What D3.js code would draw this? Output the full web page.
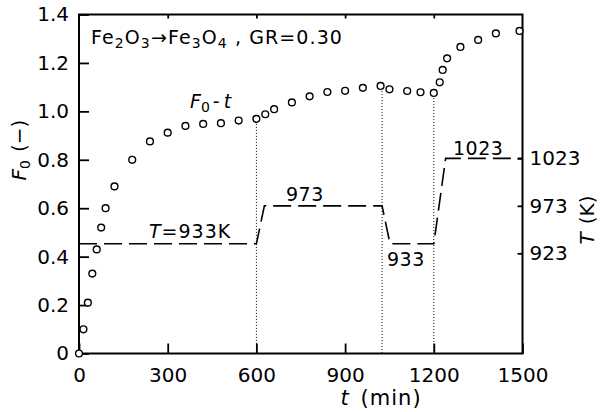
<!DOCTYPE html>
<html>
<head>
<meta charset='utf-8'>
<script src='https://cdn.jsdelivr.net/npm/d3@7'></script>
<style>
  body { margin: 0; background: white; }
  svg { font-family: 'DejaVu Sans', sans-serif; }
</style>
</head>
<body>
<svg id='chart' width='600' height='412'></svg>
<script>
var times = [0, 15, 30, 45, 60, 75, 90, 120, 180, 240, 300, 360, 420, 480, 540, 600,
  630, 660, 720, 780, 840, 900, 960, 1020, 1050, 1110, 1155, 1200,
  1220, 1230, 1245, 1290, 1350, 1410, 1490];
var F0 = [0, 0.10, 0.21, 0.33, 0.43, 0.52, 0.60, 0.69, 0.80, 0.876, 0.912, 0.94, 0.948, 0.951, 0.962, 0.969,
  0.988, 1.009, 1.037, 1.062, 1.080, 1.085, 1.097, 1.105, 1.091, 1.084, 1.079, 1.076,
  1.12, 1.171, 1.219, 1.266, 1.295, 1.322, 1.332];

// temperature program (dashed)
var tempTimes = [0, 600, 627, 1025, 1052, 1200, 1240, 1500];
var tempK = [933, 933, 973, 973, 933, 933, 1023, 1023];

// dotted markers where temperature was switched
var switchTimes = [600, 1025, 1200];
var switchTop = [0.969, 1.105, 1.076];

var xTicks = [0, 300, 600, 900, 1200, 1500];
var yTicks = [0, 0.2, 0.4, 0.6, 0.8, 1.0, 1.2, 1.4];
var tTicks = [923, 973, 1023];

var svg = d3.select('#chart');

var x = d3.scaleLinear().domain([0, 1500]).range([79, 522.5]);
var y = d3.scaleLinear().domain([0, 1.4]).range([353.5, 14.5]);
var yT = d3.scaleLinear().domain([817.5, 1174.5]).range([353.5, 14.5]);

// axes
var gx = svg.append('g').attr('transform', 'translate(0,353.5)')
  .call(d3.axisBottom(x).tickValues(xTicks).tickSize(-10).tickSizeOuter(0).tickPadding(14)
    .tickFormat(d3.format('d')));
var gtop = svg.append('g').attr('transform', 'translate(0,14.5)')
  .call(d3.axisTop(x).tickValues([300, 600, 900, 1200]).tickSize(-4).tickFormat(''));
var gy = svg.append('g').attr('transform', 'translate(79,0)')
  .call(d3.axisLeft(y).tickValues(yTicks).tickSize(-10).tickSizeOuter(0).tickPadding(10)
    .tickFormat(function(d) { return d === 0 ? '0' : d3.format('.1f')(d); }));
var gr = svg.append('g').attr('transform', 'translate(522.5,0)')
  .call(d3.axisRight(yT).tickValues(tTicks).tickSize(-5).tickSizeOuter(0).tickPadding(7)
    .tickFormat(d3.format('d')));

[gx, gtop, gy, gr].forEach(function(g) {
  g.select('.domain').remove();
  g.selectAll('.tick line').attr('stroke', '#000').attr('stroke-width', 1.8);
  g.selectAll('.tick text').attr('fill', '#000').style('font-size', '20px')
    .style('font-family', "'DejaVu Sans', sans-serif");
});

// frame
svg.append('rect')
  .attr('x', x(0)).attr('y', y(1.4))
  .attr('width', x(1500) - x(0)).attr('height', y(0) - y(1.4))
  .attr('fill', 'none').attr('stroke', '#000').attr('stroke-width', 2);

// dotted switch lines
svg.selectAll('line.sw')
  .data(switchTimes)
  .enter()
  .append('line')
  .attr('class', 'sw')
  .attr('x1', function(d) { return x(d); })
  .attr('x2', function(d) { return x(d); })
  .attr('y1', function(d, i) { return y(switchTop[i]) + 5; })
  .attr('y2', y(0))
  .attr('stroke', '#000').attr('stroke-width', 1)
  .attr('stroke-dasharray', '1,2');

// temperature program
var tLine = d3.line()
  .x(function(d, i) { return x(tempTimes[i]); })
  .y(function(d) { return yT(d); });
svg.append('path')
  .datum(tempK)
  .attr('d', tLine)
  .attr('fill', 'none').attr('stroke', '#000').attr('stroke-width', 1.6)
  .attr('stroke-dasharray', '18,7');

// F0 points
svg.selectAll('circle.pt')
  .data(F0)
  .enter()
  .append('circle')
  .attr('class', 'pt')
  .attr('cx', function(d, i) { return x(times[i]); })
  .attr('cy', function(d) { return y(d); })
  .attr('r', 3.4)
  .attr('fill', 'white').attr('stroke', '#000').attr('stroke-width', 1.4);

// text annotations
function ann(px, py, size) {
  return svg.append('text').attr('x', px).attr('y', py)
    .style('font-size', size + 'px').attr('fill', '#000');
}

var title = ann(91, 44, 19).style('letter-spacing', '1.1px');
title.append('tspan').text('Fe');
title.append('tspan').attr('dy', 4).style('font-size', '14px').text('2');
title.append('tspan').attr('dy', -4).text('O');
title.append('tspan').attr('dy', 4).style('font-size', '14px').text('3');
title.append('tspan').attr('dy', -4).text('\u2192Fe');
title.append('tspan').attr('dy', 4).style('font-size', '14px').text('3');
title.append('tspan').attr('dy', -4).text('O');
title.append('tspan').attr('dy', 4).style('font-size', '14px').text('4');
title.append('tspan').attr('dy', -4).text(' ,  GR=0.30');

var ft = ann(190, 108, 19);
ft.append('tspan').style('font-style', 'italic').text('F');
ft.append('tspan').attr('dy', 4).style('font-size', '14px').text('0');
ft.append('tspan').attr('dy', -4).attr('dx', 3).text('-');
ft.append('tspan').attr('dx', 4).style('font-style', 'italic').text('t');

var t933 = ann(149, 238, 19).style('letter-spacing', '1px');
t933.append('tspan').style('font-style', 'italic').text('T');
t933.append('tspan').text('=933K');

ann(286, 201, 19).style('letter-spacing', '0.5px').text('973');
ann(387, 266, 19).style('letter-spacing', '0.5px').text('933');
ann(453, 155, 19).style('letter-spacing', '0.5px').text('1023');

// axis titles
var fl = svg.append('text')
  .attr('transform', 'translate(26,150) rotate(-90)')
  .attr('text-anchor', 'middle')
  .style('font-size', '20px');
fl.append('tspan').style('font-style', 'italic').text('F');
fl.append('tspan').attr('dy', 4).style('font-size', '14px').text('0');
fl.append('tspan').attr('dy', -4).attr('dx', 8).text('(\u2212)');

var tl = svg.append('text')
  .attr('transform', 'translate(594,220) rotate(-90)')
  .attr('text-anchor', 'middle')
  .style('font-size', '20px');
tl.append('tspan').style('font-style', 'italic').text('T');
tl.append('tspan').attr('dx', 8).text('(K)');

var xl = svg.append('text')
  .attr('x', 381).attr('y', 405)
  .attr('text-anchor', 'middle')
  .style('font-size', '21px');
xl.append('tspan').style('font-style', 'italic').text('t');
xl.append('tspan').attr('dx', 12).style('letter-spacing', '1px').text('(min)');
</script>
</body>
</html>
